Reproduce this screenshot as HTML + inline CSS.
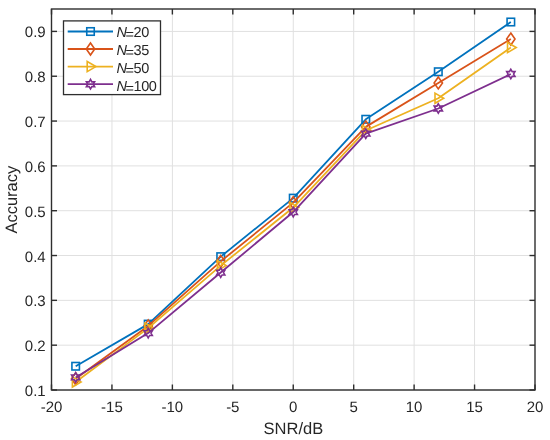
<!DOCTYPE html>
<html><head><meta charset="utf-8"><style>
html,body{margin:0;padding:0;background:#fff;width:550px;height:440px;overflow:hidden}
svg{will-change:transform} svg text{font-family:"Liberation Sans",sans-serif;fill:#262626;text-rendering:geometricPrecision}
</style></head><body>
<svg width="550" height="440" viewBox="0 0 550 440" style="position:absolute;left:0;top:0">
<rect width="550" height="440" fill="#fff"/>
<line x1="111.94" y1="9.0" x2="111.94" y2="390.0" stroke="#e0e0e0" stroke-width="1"/>
<line x1="172.38" y1="9.0" x2="172.38" y2="390.0" stroke="#e0e0e0" stroke-width="1"/>
<line x1="232.81" y1="9.0" x2="232.81" y2="390.0" stroke="#e0e0e0" stroke-width="1"/>
<line x1="293.25" y1="9.0" x2="293.25" y2="390.0" stroke="#e0e0e0" stroke-width="1"/>
<line x1="353.69" y1="9.0" x2="353.69" y2="390.0" stroke="#e0e0e0" stroke-width="1"/>
<line x1="414.12" y1="9.0" x2="414.12" y2="390.0" stroke="#e0e0e0" stroke-width="1"/>
<line x1="474.56" y1="9.0" x2="474.56" y2="390.0" stroke="#e0e0e0" stroke-width="1"/>
<line x1="51.5" y1="390.00" x2="535.0" y2="390.00" stroke="#e0e0e0" stroke-width="1"/>
<line x1="51.5" y1="345.18" x2="535.0" y2="345.18" stroke="#e0e0e0" stroke-width="1"/>
<line x1="51.5" y1="300.35" x2="535.0" y2="300.35" stroke="#e0e0e0" stroke-width="1"/>
<line x1="51.5" y1="255.53" x2="535.0" y2="255.53" stroke="#e0e0e0" stroke-width="1"/>
<line x1="51.5" y1="210.71" x2="535.0" y2="210.71" stroke="#e0e0e0" stroke-width="1"/>
<line x1="51.5" y1="165.88" x2="535.0" y2="165.88" stroke="#e0e0e0" stroke-width="1"/>
<line x1="51.5" y1="121.06" x2="535.0" y2="121.06" stroke="#e0e0e0" stroke-width="1"/>
<line x1="51.5" y1="76.24" x2="535.0" y2="76.24" stroke="#e0e0e0" stroke-width="1"/>
<line x1="51.5" y1="31.41" x2="535.0" y2="31.41" stroke="#e0e0e0" stroke-width="1"/>
<polyline points="75.67,366.24 148.20,324.11 220.72,256.65 293.25,198.16 365.78,119.27 438.30,71.75 510.82,22.00" fill="none" stroke="#0072BD" stroke-width="1.8" stroke-linejoin="round"/>
<rect x="71.92" y="362.49" width="7.50" height="7.50" fill="none" stroke="#0072BD" stroke-width="1.6"/>
<rect x="144.45" y="320.36" width="7.50" height="7.50" fill="none" stroke="#0072BD" stroke-width="1.6"/>
<rect x="216.97" y="252.90" width="7.50" height="7.50" fill="none" stroke="#0072BD" stroke-width="1.6"/>
<rect x="289.50" y="194.41" width="7.50" height="7.50" fill="none" stroke="#0072BD" stroke-width="1.6"/>
<rect x="362.03" y="115.52" width="7.50" height="7.50" fill="none" stroke="#0072BD" stroke-width="1.6"/>
<rect x="434.55" y="68.00" width="7.50" height="7.50" fill="none" stroke="#0072BD" stroke-width="1.6"/>
<rect x="507.07" y="18.25" width="7.50" height="7.50" fill="none" stroke="#0072BD" stroke-width="1.6"/>
<polyline points="75.67,378.79 148.20,325.90 220.72,261.36 293.25,202.64 365.78,126.89 438.30,82.96 510.82,39.03" fill="none" stroke="#D95319" stroke-width="1.8" stroke-linejoin="round"/>
<path d="M75.67 372.79L79.88 378.79L75.67 384.79L71.47 378.79Z" fill="none" stroke="#D95319" stroke-width="1.6"/>
<path d="M148.20 319.90L152.40 325.90L148.20 331.90L144.00 325.90Z" fill="none" stroke="#D95319" stroke-width="1.6"/>
<path d="M220.72 255.36L224.92 261.36L220.72 267.36L216.53 261.36Z" fill="none" stroke="#D95319" stroke-width="1.6"/>
<path d="M293.25 196.64L297.45 202.64L293.25 208.64L289.05 202.64Z" fill="none" stroke="#D95319" stroke-width="1.6"/>
<path d="M365.78 120.89L369.98 126.89L365.78 132.89L361.58 126.89Z" fill="none" stroke="#D95319" stroke-width="1.6"/>
<path d="M438.30 76.96L442.50 82.96L438.30 88.96L434.10 82.96Z" fill="none" stroke="#D95319" stroke-width="1.6"/>
<path d="M510.82 33.03L515.02 39.03L510.82 45.03L506.62 39.03Z" fill="none" stroke="#D95319" stroke-width="1.6"/>
<polyline points="75.67,381.93 148.20,328.14 220.72,265.61 293.25,207.57 365.78,130.47 438.30,98.20 510.82,47.55" fill="none" stroke="#EDB120" stroke-width="1.8" stroke-linejoin="round"/>
<path d="M72.38 376.83L81.08 381.93L72.38 387.03Z" fill="none" stroke="#EDB120" stroke-width="1.6"/>
<path d="M144.90 323.04L153.60 328.14L144.90 333.24Z" fill="none" stroke="#EDB120" stroke-width="1.6"/>
<path d="M217.42 260.51L226.12 265.61L217.42 270.71Z" fill="none" stroke="#EDB120" stroke-width="1.6"/>
<path d="M289.95 202.47L298.65 207.57L289.95 212.67Z" fill="none" stroke="#EDB120" stroke-width="1.6"/>
<path d="M362.48 125.37L371.18 130.47L362.48 135.57Z" fill="none" stroke="#EDB120" stroke-width="1.6"/>
<path d="M435.00 93.10L443.70 98.20L435.00 103.30Z" fill="none" stroke="#EDB120" stroke-width="1.6"/>
<path d="M507.52 42.45L516.23 47.55L507.52 52.65Z" fill="none" stroke="#EDB120" stroke-width="1.6"/>
<polyline points="75.67,377.45 148.20,333.07 220.72,272.56 293.25,212.05 365.78,133.61 438.30,108.51 510.82,73.99" fill="none" stroke="#7E2F8E" stroke-width="1.8" stroke-linejoin="round"/>
<path d="M75.67 372.70L74.30 375.07L71.56 375.07L72.93 377.45L71.56 379.82L74.30 379.82L75.67 382.20L77.05 379.82L79.79 379.82L78.42 377.45L79.79 375.07L77.05 375.07Z" fill="none" stroke="#7E2F8E" stroke-width="1.6" stroke-linejoin="miter"/>
<path d="M148.20 328.32L146.83 330.70L144.09 330.70L145.46 333.07L144.09 335.45L146.83 335.45L148.20 337.82L149.57 335.45L152.31 335.45L150.94 333.07L152.31 330.70L149.57 330.70Z" fill="none" stroke="#7E2F8E" stroke-width="1.6" stroke-linejoin="miter"/>
<path d="M220.72 267.81L219.35 270.19L216.61 270.19L217.98 272.56L216.61 274.94L219.35 274.94L220.72 277.31L222.10 274.94L224.84 274.94L223.47 272.56L224.84 270.19L222.10 270.19Z" fill="none" stroke="#7E2F8E" stroke-width="1.6" stroke-linejoin="miter"/>
<path d="M293.25 207.30L291.88 209.68L289.14 209.68L290.51 212.05L289.14 214.43L291.88 214.43L293.25 216.80L294.62 214.43L297.36 214.43L295.99 212.05L297.36 209.68L294.62 209.68Z" fill="none" stroke="#7E2F8E" stroke-width="1.6" stroke-linejoin="miter"/>
<path d="M365.78 128.86L364.40 131.23L361.66 131.23L363.03 133.61L361.66 135.98L364.40 135.98L365.78 138.36L367.15 135.98L369.89 135.98L368.52 133.61L369.89 131.23L367.15 131.23Z" fill="none" stroke="#7E2F8E" stroke-width="1.6" stroke-linejoin="miter"/>
<path d="M438.30 103.76L436.93 106.13L434.19 106.13L435.56 108.51L434.19 110.88L436.93 110.88L438.30 113.26L439.67 110.88L442.41 110.88L441.04 108.51L442.41 106.13L439.67 106.13Z" fill="none" stroke="#7E2F8E" stroke-width="1.6" stroke-linejoin="miter"/>
<path d="M510.82 69.24L509.45 71.62L506.71 71.62L508.08 73.99L506.71 76.37L509.45 76.37L510.82 78.74L512.20 76.37L514.94 76.37L513.57 73.99L514.94 71.62L512.20 71.62Z" fill="none" stroke="#7E2F8E" stroke-width="1.6" stroke-linejoin="miter"/>
<rect x="51.5" y="9.0" width="483.5" height="381.0" fill="none" stroke="#2e2e2e" stroke-width="1.4"/>
<line x1="51.50" y1="390.0" x2="51.50" y2="384.5" stroke="#2e2e2e" stroke-width="1.4"/><line x1="51.50" y1="9.0" x2="51.50" y2="14.5" stroke="#2e2e2e" stroke-width="1.4"/>
<line x1="111.94" y1="390.0" x2="111.94" y2="384.5" stroke="#2e2e2e" stroke-width="1.4"/><line x1="111.94" y1="9.0" x2="111.94" y2="14.5" stroke="#2e2e2e" stroke-width="1.4"/>
<line x1="172.38" y1="390.0" x2="172.38" y2="384.5" stroke="#2e2e2e" stroke-width="1.4"/><line x1="172.38" y1="9.0" x2="172.38" y2="14.5" stroke="#2e2e2e" stroke-width="1.4"/>
<line x1="232.81" y1="390.0" x2="232.81" y2="384.5" stroke="#2e2e2e" stroke-width="1.4"/><line x1="232.81" y1="9.0" x2="232.81" y2="14.5" stroke="#2e2e2e" stroke-width="1.4"/>
<line x1="293.25" y1="390.0" x2="293.25" y2="384.5" stroke="#2e2e2e" stroke-width="1.4"/><line x1="293.25" y1="9.0" x2="293.25" y2="14.5" stroke="#2e2e2e" stroke-width="1.4"/>
<line x1="353.69" y1="390.0" x2="353.69" y2="384.5" stroke="#2e2e2e" stroke-width="1.4"/><line x1="353.69" y1="9.0" x2="353.69" y2="14.5" stroke="#2e2e2e" stroke-width="1.4"/>
<line x1="414.12" y1="390.0" x2="414.12" y2="384.5" stroke="#2e2e2e" stroke-width="1.4"/><line x1="414.12" y1="9.0" x2="414.12" y2="14.5" stroke="#2e2e2e" stroke-width="1.4"/>
<line x1="474.56" y1="390.0" x2="474.56" y2="384.5" stroke="#2e2e2e" stroke-width="1.4"/><line x1="474.56" y1="9.0" x2="474.56" y2="14.5" stroke="#2e2e2e" stroke-width="1.4"/>
<line x1="535.00" y1="390.0" x2="535.00" y2="384.5" stroke="#2e2e2e" stroke-width="1.4"/><line x1="535.00" y1="9.0" x2="535.00" y2="14.5" stroke="#2e2e2e" stroke-width="1.4"/>
<line x1="51.5" y1="390.00" x2="57.0" y2="390.00" stroke="#2e2e2e" stroke-width="1.4"/><line x1="535.0" y1="390.00" x2="529.5" y2="390.00" stroke="#2e2e2e" stroke-width="1.4"/>
<line x1="51.5" y1="345.18" x2="57.0" y2="345.18" stroke="#2e2e2e" stroke-width="1.4"/><line x1="535.0" y1="345.18" x2="529.5" y2="345.18" stroke="#2e2e2e" stroke-width="1.4"/>
<line x1="51.5" y1="300.35" x2="57.0" y2="300.35" stroke="#2e2e2e" stroke-width="1.4"/><line x1="535.0" y1="300.35" x2="529.5" y2="300.35" stroke="#2e2e2e" stroke-width="1.4"/>
<line x1="51.5" y1="255.53" x2="57.0" y2="255.53" stroke="#2e2e2e" stroke-width="1.4"/><line x1="535.0" y1="255.53" x2="529.5" y2="255.53" stroke="#2e2e2e" stroke-width="1.4"/>
<line x1="51.5" y1="210.71" x2="57.0" y2="210.71" stroke="#2e2e2e" stroke-width="1.4"/><line x1="535.0" y1="210.71" x2="529.5" y2="210.71" stroke="#2e2e2e" stroke-width="1.4"/>
<line x1="51.5" y1="165.88" x2="57.0" y2="165.88" stroke="#2e2e2e" stroke-width="1.4"/><line x1="535.0" y1="165.88" x2="529.5" y2="165.88" stroke="#2e2e2e" stroke-width="1.4"/>
<line x1="51.5" y1="121.06" x2="57.0" y2="121.06" stroke="#2e2e2e" stroke-width="1.4"/><line x1="535.0" y1="121.06" x2="529.5" y2="121.06" stroke="#2e2e2e" stroke-width="1.4"/>
<line x1="51.5" y1="76.24" x2="57.0" y2="76.24" stroke="#2e2e2e" stroke-width="1.4"/><line x1="535.0" y1="76.24" x2="529.5" y2="76.24" stroke="#2e2e2e" stroke-width="1.4"/>
<line x1="51.5" y1="31.41" x2="57.0" y2="31.41" stroke="#2e2e2e" stroke-width="1.4"/><line x1="535.0" y1="31.41" x2="529.5" y2="31.41" stroke="#2e2e2e" stroke-width="1.4"/>
<text x="51.50" y="412.2" text-anchor="middle" font-size="15">-20</text>
<text x="111.94" y="412.2" text-anchor="middle" font-size="15">-15</text>
<text x="172.38" y="412.2" text-anchor="middle" font-size="15">-10</text>
<text x="232.81" y="412.2" text-anchor="middle" font-size="15">-5</text>
<text x="293.25" y="412.2" text-anchor="middle" font-size="15">0</text>
<text x="353.69" y="412.2" text-anchor="middle" font-size="15">5</text>
<text x="414.12" y="412.2" text-anchor="middle" font-size="15">10</text>
<text x="474.56" y="412.2" text-anchor="middle" font-size="15">15</text>
<text x="535.00" y="412.2" text-anchor="middle" font-size="15">20</text>
<text x="45.7" y="396.00" text-anchor="end" font-size="15">0.1</text>
<text x="45.7" y="351.18" text-anchor="end" font-size="15">0.2</text>
<text x="45.7" y="306.35" text-anchor="end" font-size="15">0.3</text>
<text x="45.7" y="261.53" text-anchor="end" font-size="15">0.4</text>
<text x="45.7" y="216.71" text-anchor="end" font-size="15">0.5</text>
<text x="45.7" y="171.88" text-anchor="end" font-size="15">0.6</text>
<text x="45.7" y="127.06" text-anchor="end" font-size="15">0.7</text>
<text x="45.7" y="82.24" text-anchor="end" font-size="15">0.8</text>
<text x="45.7" y="37.41" text-anchor="end" font-size="15">0.9</text>
<text x="293.4" y="434.0" text-anchor="middle" font-size="16.5">SNR/dB</text>
<text transform="translate(17.1,199.7) rotate(-90)" text-anchor="middle" font-size="16.5">Accuracy</text>
<rect x="63.5" y="20.9" width="97.0" height="73.69999999999999" fill="#fff" stroke="#2e2e2e" stroke-width="1.3"/>
<line x1="67.7" y1="31.5" x2="113" y2="31.5" stroke="#0072BD" stroke-width="1.8"/>
<rect x="86.75" y="27.75" width="7.50" height="7.50" fill="none" stroke="#0072BD" stroke-width="1.6"/>
<text y="36.9" font-size="14.5"><tspan x="116.6" font-style="italic">N</tspan><tspan x="125.4" dy="1.8">=</tspan><tspan x="133.6" dy="-1.8" letter-spacing="-0.45">20</tspan></text>
<line x1="67.7" y1="49.0" x2="113" y2="49.0" stroke="#D95319" stroke-width="1.8"/>
<path d="M90.50 43.00L94.70 49.00L90.50 55.00L86.30 49.00Z" fill="none" stroke="#D95319" stroke-width="1.6"/>
<text y="55.0" font-size="14.5"><tspan x="116.6" font-style="italic">N</tspan><tspan x="125.4" dy="1.8">=</tspan><tspan x="133.6" dy="-1.8" letter-spacing="-0.45">35</tspan></text>
<line x1="67.7" y1="66.6" x2="113" y2="66.6" stroke="#EDB120" stroke-width="1.8"/>
<path d="M87.20 61.50L95.90 66.60L87.20 71.70Z" fill="none" stroke="#EDB120" stroke-width="1.6"/>
<text y="72.8" font-size="14.5"><tspan x="116.6" font-style="italic">N</tspan><tspan x="125.4" dy="1.8">=</tspan><tspan x="133.6" dy="-1.8" letter-spacing="-0.45">50</tspan></text>
<line x1="67.7" y1="84.2" x2="113" y2="84.2" stroke="#7E2F8E" stroke-width="1.8"/>
<path d="M90.50 79.45L89.13 81.83L86.39 81.83L87.76 84.20L86.39 86.58L89.13 86.58L90.50 88.95L91.87 86.58L94.61 86.58L93.24 84.20L94.61 81.83L91.87 81.83Z" fill="none" stroke="#7E2F8E" stroke-width="1.6" stroke-linejoin="miter"/>
<text y="90.8" font-size="14.5"><tspan x="116.6" font-style="italic">N</tspan><tspan x="125.4" dy="1.8">=</tspan><tspan x="133.6" dy="-1.8" letter-spacing="-0.45">100</tspan></text>
</svg>
</body></html>
